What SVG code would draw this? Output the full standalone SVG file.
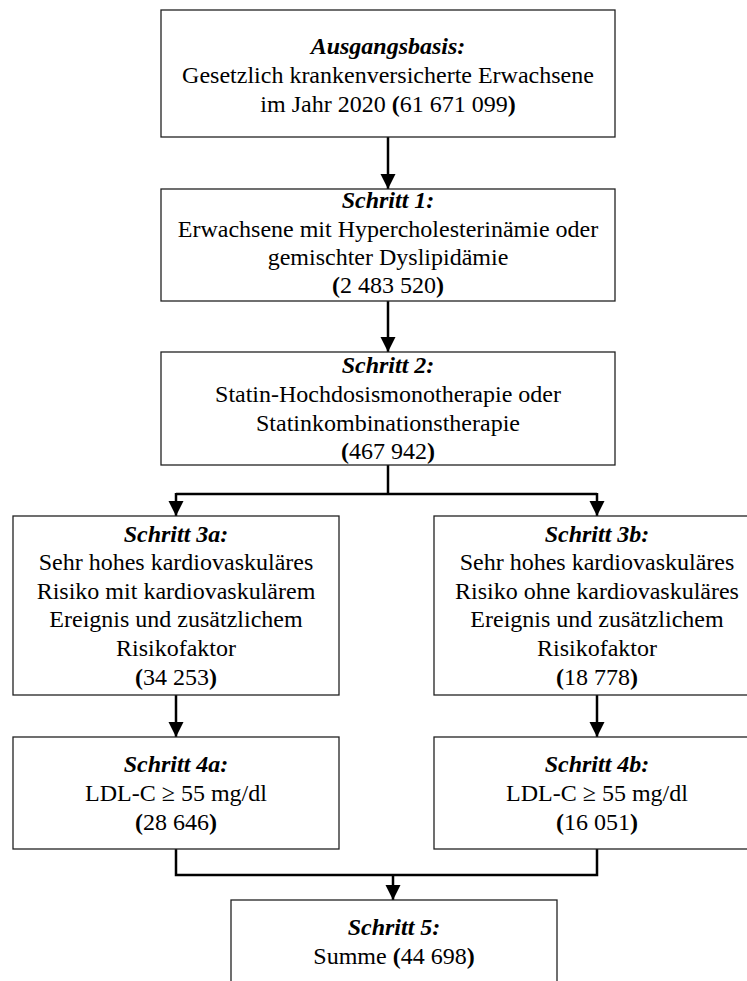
<svg xmlns="http://www.w3.org/2000/svg" width="747" height="981" viewBox="0 0 747 981">
<style>
.box{fill:#fff;stroke:#222;stroke-width:1.3}
text{font-family:'Liberation Serif','DejaVu Serif',serif;font-size:24px;fill:#000;text-anchor:middle}
.h{font-weight:bold;font-style:italic}
.b{font-weight:bold}
.c{fill:none;stroke:#000;stroke-width:2.5}
</style>
<defs>
<marker id="arr" markerUnits="userSpaceOnUse" markerWidth="16" markerHeight="16" refX="15" refY="7.5" orient="auto" viewBox="0 0 16 16">
<path d="M0,0 L15,7.5 L0,15 z" fill="#000"/>
</marker>
</defs>
<rect width="747" height="981" fill="#fff"/>
<g id="connectors">
<line class="c" x1="388" y1="137" x2="388" y2="189" marker-end="url(#arr)"/>
<line class="c" x1="388" y1="301" x2="388" y2="352" marker-end="url(#arr)"/>
<polyline class="c" points="388,465 388,494"/>
<polyline class="c" points="176,494 597,494"/>
<line class="c" x1="176" y1="493" x2="176" y2="516" marker-end="url(#arr)"/>
<line class="c" x1="597" y1="493" x2="597" y2="516" marker-end="url(#arr)"/>
<line class="c" x1="176" y1="695" x2="176" y2="737" marker-end="url(#arr)"/>
<line class="c" x1="597" y1="695" x2="597" y2="737" marker-end="url(#arr)"/>
<polyline class="c" points="176,849 176,875 597,875 597,849"/>
<line class="c" x1="393" y1="875" x2="393" y2="900" marker-end="url(#arr)"/>
</g>
<g id="n0">
<rect class="box" x="161" y="10" width="454" height="127"/>
<text x="388" y="54"><tspan class="h">Ausgangsbasis:</tspan></text>
<text x="388" y="83">Gesetzlich krankenversicherte Erwachsene</text>
<text x="388" y="112">im Jahr 2020 <tspan class="b">(</tspan>61 671 099<tspan class="b">)</tspan></text>
</g>
<g id="n1">
<rect class="box" x="161" y="189" width="454" height="112"/>
<text class="h" x="388" y="208">Schritt 1:</text>
<text x="388" y="237">Erwachsene mit Hypercholesterinämie oder</text>
<text x="388" y="265">gemischter Dyslipidämie</text>
<text x="388" y="293"><tspan class="b">(</tspan>2 483 520<tspan class="b">)</tspan></text>
</g>
<g id="n2">
<rect class="box" x="161" y="352" width="454" height="113"/>
<text class="h" x="388" y="373">Schritt 2:</text>
<text x="388" y="402">Statin-Hochdosismonotherapie oder</text>
<text x="388" y="431">Statinkombinationstherapie</text>
<text x="388" y="459"><tspan class="b">(</tspan>467 942<tspan class="b">)</tspan></text>
</g>
<g id="n3a">
<rect class="box" x="13" y="516" width="326" height="179"/>
<text class="h" x="176" y="542">Schritt 3a:</text>
<text x="176" y="570">Sehr hohes kardiovaskuläres</text>
<text x="176" y="599">Risiko mit kardiovaskulärem</text>
<text x="176" y="627">Ereignis und zusätzlichem</text>
<text x="176" y="656">Risikofaktor</text>
<text x="176" y="685"><tspan class="b">(</tspan>34 253<tspan class="b">)</tspan></text>
</g>
<g id="n3b">
<rect class="box" x="434" y="516" width="326" height="179"/>
<text class="h" x="597" y="542">Schritt 3b:</text>
<text x="597" y="570">Sehr hohes kardiovaskuläres</text>
<text x="597" y="599">Risiko ohne kardiovaskuläres</text>
<text x="597" y="627">Ereignis und zusätzlichem</text>
<text x="597" y="656">Risikofaktor</text>
<text x="597" y="685"><tspan class="b">(</tspan>18 778<tspan class="b">)</tspan></text>
</g>
<g id="n4a">
<rect class="box" x="13" y="737" width="326" height="112"/>
<text class="h" x="176" y="772">Schritt 4a:</text>
<text x="176" y="801">LDL-C ≥ 55 mg/dl</text>
<text x="176" y="830"><tspan class="b">(</tspan>28 646<tspan class="b">)</tspan></text>
</g>
<g id="n4b">
<rect class="box" x="434" y="737" width="326" height="112"/>
<text class="h" x="597" y="772">Schritt 4b:</text>
<text x="597" y="801">LDL-C ≥ 55 mg/dl</text>
<text x="597" y="830"><tspan class="b">(</tspan>16 051<tspan class="b">)</tspan></text>
</g>
<g id="n5">
<rect class="box" x="231" y="900" width="326" height="100"/>
<text class="h" x="394" y="935">Schritt 5:</text>
<text x="394" y="964">Summe <tspan class="b">(</tspan>44 698<tspan class="b">)</tspan></text>
</g>
</svg>
